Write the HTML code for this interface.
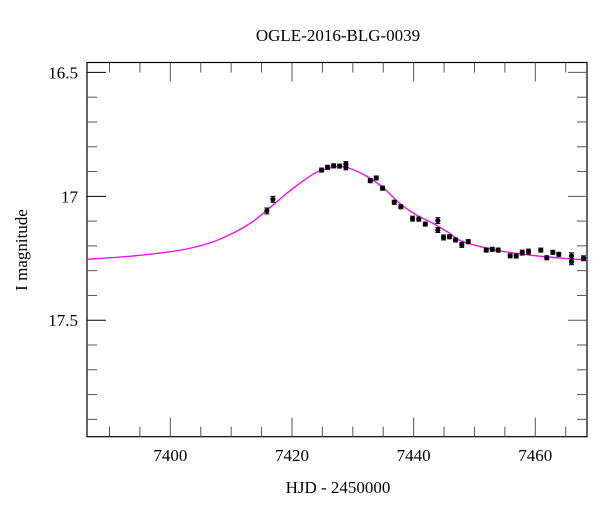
<!DOCTYPE html>
<html><head><meta charset="utf-8"><style>
body{margin:0;background:#fff}
svg{display:block;font-family:"Liberation Serif",serif}
</style></head><body>
<svg width="600" height="512" viewBox="0 0 600 512">
<g id="axes"></g>
<g id="curve"></g>
<g id="points"></g>
<text x="338" y="41" font-size="17" text-anchor="middle">OGLE-2016-BLG-0039</text>
<text x="338" y="493" font-size="17" text-anchor="middle">HJD - 2450000</text>
<text x="0" y="0" font-size="17" text-anchor="middle" transform="translate(27,250) rotate(-90)">I magnitude</text>
</svg>
<script>
const obsTime=[7415.87,7416.86,7424.86,7425.85,7426.84,7427.82,7428.86,7428.86,7432.87,7433.85,7434.89,7436.81,7437.90,7439.82,7440.85,7441.91,7443.98,7443.98,7444.91,7445.90,7446.89,7447.92,7448.97,7451.93,7452.92,7453.90,7455.87,7456.86,7457.85,7458.88,7460.90,7461.89,7462.88,7463.86,7465.95,7465.95,7467.92];
const obsMag=[17.059,17.012,16.894,16.883,16.877,16.878,16.870,16.883,16.937,16.926,16.967,17.024,17.042,17.090,17.092,17.112,17.098,17.136,17.166,17.163,17.176,17.196,17.183,17.217,17.214,17.217,17.240,17.241,17.227,17.223,17.217,17.248,17.226,17.234,17.240,17.264,17.250];
const obsErr=[0.012,0.012,0.008,0.008,0.008,0.008,0.010,0.010,0.008,0.008,0.008,0.008,0.008,0.010,0.008,0.008,0.012,0.010,0.010,0.008,0.008,0.010,0.008,0.008,0.008,0.008,0.008,0.008,0.010,0.010,0.008,0.008,0.008,0.008,0.012,0.012,0.010];
const modelTime=[7386.3,7394.13,7402.35,7407.82,7413.31,7418.78,7421.25,7423.99,7426.72,7428.0,7429.47,7432.21,7434.94,7437.68,7440.43,7443.16,7445.90,7448.09,7453.57,7459.05,7464.52,7468.5];
const modelMag=[17.254,17.240,17.214,17.176,17.106,16.995,16.948,16.903,16.883,16.879,16.887,16.918,16.964,17.028,17.075,17.109,17.149,17.183,17.217,17.237,17.250,17.257];
const xMajor=[7400,7420,7440,7460];
const yMajor=[16.5,17,17.5];
const yLabels=["16.5","17","17.5"];

const L=87,R=587,T=62.5,B=436.7,X0=7386.3,X1=7468.5,Y0=16.46,Y1=17.97;
const sx=v=>L+(v-X0)/(X1-X0)*(R-L);
const sy=v=>T+(v-Y0)/(Y1-Y0)*(B-T);
const NS="http://www.w3.org/2000/svg";
function mk(tag,attrs,parent){const e=document.createElementNS(NS,tag);for(const k in attrs)e.setAttribute(k,attrs[k]);parent.appendChild(e);return e;}
const ax=document.getElementById('axes');
const frame=mk('rect',{x:L,y:T,width:R-L,height:B-T,fill:'none',stroke:'#000','stroke-width':1.2},ax);


for(let t=7390;t<=X1;t+=5){
  const maj=xMajor.indexOf(t)>=0,len=maj?19:10,x=sx(t);
  const a=mk('line',{x1:x,x2:x,y1:B,y2:B-len,stroke:'#555','stroke-width':1},ax);
  
  
  const b=mk('line',{x1:x,x2:x,y1:T,y2:T+len,stroke:'#555','stroke-width':1},ax);
  
  
}
xMajor.forEach(t=>{
  const tx=mk('text',{x:sx(t),y:461,'font-size':17,'text-anchor':'middle'},ax);
  tx.textContent=String(t);
  
  
});
for(let i=0;i<=14;i++){
  const m=16.5+i*0.1;if(m>Y1)break;
  const maj=Math.abs(m*2-Math.round(m*2))<1e-6,len=maj?19:10,y=sy(m);
  const a=mk('line',{x1:L,x2:L+len,y1:y,y2:y,stroke:maj?'#000':'#555','stroke-width':1},ax);
  
  
  const b=mk('line',{x1:R,x2:R-len,y1:y,y2:y,stroke:'#555','stroke-width':1},ax);
  
  
}
yMajor.forEach((m,i)=>{
  const tx=mk('text',{x:78,y:sy(m)+6,'font-size':17,'text-anchor':'end'},ax);
  tx.textContent=yLabels[i];
  
  
});
// model curve (Catmull-Rom)
const pts=modelTime.map((t,i)=>[sx(t),sy(modelMag[i])]);
let d='M'+pts[0][0]+','+pts[0][1];
for(let i=0;i<pts.length-1;i++){
  const p0=pts[Math.max(0,i-1)],p1=pts[i],p2=pts[i+1],p3=pts[Math.min(pts.length-1,i+2)];
  const c1=[p1[0]+(p2[0]-p0[0])/6,p1[1]+(p2[1]-p0[1])/6],c2=[p2[0]-(p3[0]-p1[0])/6,p2[1]-(p3[1]-p1[1])/6];
  d+=' C'+c1+' '+c2+' '+p2;
}
const cg=document.getElementById('curve');
const path=mk('path',{d:d,fill:'none',stroke:'#ff00ff','stroke-width':1.3},cg);


const pg=document.getElementById('points');
obsTime.forEach((t,i)=>{
  const x=sx(t),y=sy(obsMag[i]),e1=sy(obsMag[i]-obsErr[i]),e2=sy(obsMag[i]+obsErr[i]);
  const g=mk('g',{},pg);
  
  
  mk('line',{x1:x,x2:x,y1:e1,y2:e2,stroke:'#000','stroke-width':1},g);
  mk('line',{x1:x-2.5,x2:x+2.5,y1:e1,y2:e1,stroke:'#000','stroke-width':1},g);
  mk('line',{x1:x-2.5,x2:x+2.5,y1:e2,y2:e2,stroke:'#000','stroke-width':1},g);
  mk('circle',{cx:x,cy:y,r:2.6,fill:'#000'},g);
});
</script>
</body></html>
